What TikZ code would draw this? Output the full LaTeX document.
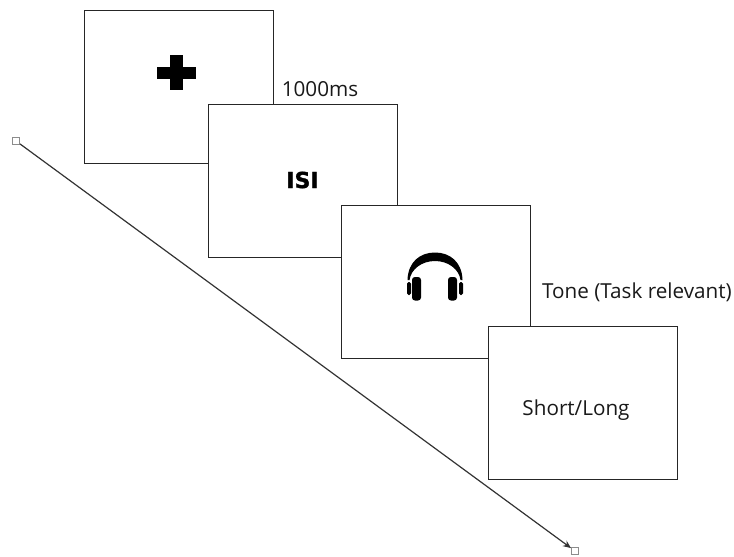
\documentclass[tikz,border=0pt]{standalone}
\usepackage{fontspec}
\setmainfont{Open Sans}
\newfontfamily\boldface[FakeBold=1.5]{DejaVu Sans Bold}
\usetikzlibrary{arrows.meta}
\tikzset{
	screenbox/.style = {draw = black!85, fill = white, line width = 0.6pt, inner sep = 0, minimum width = 141.75pt, minimum height = 114.75pt},
	handlebox/.style = {draw = black!45, fill = white, line width = 0.5pt, inner sep = 0, minimum size = 5.5pt},
	label/.style = {inner sep = 0, font = \fontsize{15.5}{18}\selectfont, text = black!90},
	crossbar/.style = {fill = black, inner sep = 0},
	cup/.style = {fill = black, rounded corners = 2.2pt}
}
\begin{document}
\begin{tikzpicture}[x = 0.75pt, y = -0.75pt]
	\useasboundingbox (0,0) rectangle (734,556);
	
	\node[screenbox] (s1) at (178.5,86.5) {};
	\node[screenbox] (s2) at (302.5,180.5) {};
	\node[screenbox] (s3) at (435.5,282) {};
	\node[screenbox] (s4) at (582.5,402.5) {};
	
	\node[crossbar, minimum width = 29.25pt, minimum height = 9pt] (c1) at (176.5,73) {};
	\node[crossbar, minimum width = 9.75pt, minimum height = 26.25pt] (c2) at (176.5,72.5) {};
	
	\node[inner sep = 0, font = \boldface\fontsize{16.5}{18}\selectfont, text = black] (isi) at (302.5,180) {ISI};
	
	% headphones
	\fill (407.5,280) .. controls (408,262) and (420,252.5) .. (435,252.5) .. controls (450,252.5) and (462,262) .. (462.5,280) -- (460.5,280) .. controls (459,269) and (448,261) .. (435,261) .. controls (422,261) and (411,269) .. (409.5,280) -- cycle;
	\fill[cup] (412,277) rectangle (421,300.5);
	\fill[cup] (448,277) rectangle (457,300.5);
	\fill[cup, rounded corners = 1.2pt] (407,282) rectangle (411,295);
	\fill[cup, rounded corners = 1.2pt] (459,282) rectangle (463,295);
	
	\node[label] (t1) at (320,89) {1000ms};
	\node[label] (t2) at (637,292) {Tone (Task relevant)};
	\node[label] (t3) at (576,410) {Short/Long};
	
	\node[handlebox] (h1) at (16,141) {};
	\node[handlebox] (h2) at (575,551) {};
	\draw[-{Stealth[length = 6pt, width = 5pt]}, black!80, line width = 0.9pt] (h1) -- (h2);
\end{tikzpicture}
\end{document}
